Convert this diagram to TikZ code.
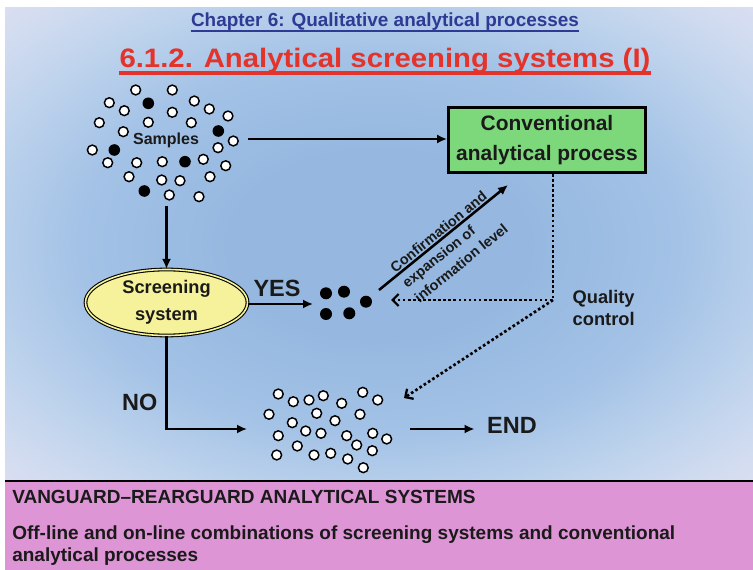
\documentclass[tikz,border=0pt]{standalone}
\usepackage{fontspec}
\setmainfont{Liberation Sans}
\newfontfamily\widesans[FakeStretch=1.1]{Liberation Sans}
\usetikzlibrary{arrows.meta,calc,positioning,shapes.geometric}

\definecolor{chapblue}{HTML}{2E3A93}
\definecolor{titlered}{HTML}{E4332A}
\definecolor{boxgreen}{HTML}{7DD87B}
\definecolor{ellyellow}{HTML}{F6F19B}
\definecolor{bandpink}{HTML}{DD95D5}
\definecolor{inkgray}{HTML}{1A1A1A}
\definecolor{bgA}{HTML}{96B8E0}
\definecolor{bgB}{HTML}{A3C2E6}
\definecolor{bgC}{HTML}{BCD2EC}
\definecolor{bgD}{HTML}{D2DCF0}
\definecolor{bgE}{HTML}{E9E1F3}
\definecolor{bgF}{HTML}{F7E5F6}

\pgfdeclareradialshading{slidebg}{\pgfpoint{0bp}{0bp}}{%
  color(0bp)=(bgA); color(10bp)=(bgA); color(20bp)=(bgB); color(27bp)=(bgC);
  color(33bp)=(bgD); color(40bp)=(bgE); color(46bp)=(bgF); color(50bp)=(bgF)}

\tikzset{
  every node/.style={font=\bfseries, text=inkgray},
  procbox/.style={draw=black, line width=1.9pt, fill=boxgreen, minimum width=148pt,
    minimum height=49pt, align=center, inner sep=0pt,
    font=\bfseries\fontsize{15.7}{22.5}\selectfont},
  screenbox/.style={ellipse, draw=black, line width=0.8pt, double=ellyellow,
    double distance=1.2pt, fill=ellyellow, minimum width=121.5pt, minimum height=49.5pt,
    inner sep=0pt, align=center, font=\bfseries\fontsize{13.7}{20}\selectfont},
  answer/.style={font=\bfseries\fontsize{17.6}{20}\selectfont},
  flow/.style={line width=1.9pt, -{Latex[length=7.5pt,width=6.8pt]}},
  qcflow/.style={line width=2pt, dash pattern=on 2pt off 1.8pt,
    -{Straight Barb[length=4.5pt,width=9pt,line width=1.7pt]}},
  whitedot/.style={draw=black, line width=1.1pt, fill=white},
  blackdot/.style={fill=black},
  bandtext/.style={anchor=base west, inner sep=0pt, align=left,
    font=\bfseries\fontsize{14.25}{16.5}\selectfont},
}

\begin{document}
\begin{tikzpicture}[x=0.75pt, y=-0.75pt]
  \useasboundingbox (0,0) rectangle (753,570);
  \fill[white] (0,0) rectangle (753,570);
  % slide background
  \shade[shading=slidebg] (5,8) rectangle (753,481);
  \fill[bandpink] (5,481) rectangle (753,570);
  \draw[black, line width=1.9pt] (5,481) -- (753,481);

  % headings
  \node[inner sep=0pt, anchor=base, text=chapblue, font=\bfseries\fontsize{14.2}{16}\selectfont]
    (chap) at (385,26.5) {Chapter 6: Qualitative analytical processes};
  \draw[chapblue, line width=1.6pt] ([yshift=-3.6pt]chap.base west) -- ([yshift=-3.6pt]chap.base east);
  \node[inner sep=0pt, anchor=base, text=titlered, font=\widesans\bfseries\fontsize{20}{24}\selectfont]
    (title) at (385,67.3) {6.1.2. Analytical screening systems (I)};
  \draw[titlered, line width=2.5pt] ([yshift=-4.3pt]title.base west) -- ([yshift=-4.3pt]title.base east);

  % samples
  \foreach \x/\y in {135.7/90, 172.3/90, 109.3/102.7, 124.3/110.7, 194.3/101, 209.3/109,
      228/116, 172.3/112.3, 99.3/122.7, 148.3/122.3, 191.3/122.7, 123.3/131.7, 233.3/141,
      218/147.7, 92.3/150, 107.7/162.7, 136.7/162.7, 162.3/161.7, 203.3/159.3, 225.7/165.7,
      129/176.7, 161.7/180, 180/180.7, 210/176.7, 169.3/195, 199/196.7}
    \draw[whitedot] (\x,\y) circle [radius=4.9];
  \foreach \x/\y in {148.3/103.3, 218.3/131, 114.3/150, 185/161.7, 144.3/191}
    \fill[blackdot] (\x,\y) circle [radius=5.8];
  \node[font=\bfseries\fontsize{12}{14}\selectfont] (smp) at (166,140) {Samples};
  \coordinate (smpE) at (248,139);
  \coordinate (smpS) at (166.5,206);

  % boxes
  \node[procbox] (conv) at (547,140) {Conventional\\analytical process};
  \node[screenbox] (scr) at (166.5,302.5) {Screening\\system};

  % positives
  \foreach \x/\y in {326/293.3, 344/291.7, 366/301.7, 326/314, 349.3/313.3}
    \fill[blackdot] (\x,\y) circle [radius=6];
  \coordinate (hitW) at (313,304);
  \coordinate (hitNE) at (379,290);
  \coordinate (hitE) at (391,300);
  \coordinate (confEnd) at (508,185);

  % negatives
  \foreach \x/\y in {278.3/394, 293.3/401.7, 309/400, 323.3/395.7, 341.7/403.3, 362.7/392.3,
      377.7/400, 269/414.3, 316.7/413.3, 335/420.7, 360/414.3, 292.3/422.7, 305.7/431,
      321/433.3, 346.7/435.7, 356.7/445, 372.7/433.3, 386.7/439, 278.3/435.7, 297.3/446,
      314/455, 330.7/453.3, 347.7/459, 372.3/450.7, 276.7/455, 363.3/467.7}
    \draw[whitedot] (\x,\y) circle [radius=4.9];
  \coordinate (restW) at (247,429);
  \coordinate (restNE) at (404,398);
  \coordinate (restE) at (410,429);
  \coordinate (qc) at (553,300);

  % labels
  \node[answer] (yes) at (277,288) {YES};
  \node[answer] (no) at (139.7,402) {NO};
  \node[answer] (end) at (512,425) {END};
  \node[anchor=west, align=left, font=\bfseries\fontsize{13.7}{17.2}\selectfont]
    (qlabel) at (568,308) {Quality\\control};
  \node[anchor=west, align=left, rotate=39, inner sep=0pt,
    font=\bfseries\fontsize{10.8}{14.4}\selectfont]
    (conf) at (404,284.5) {Confirmation and\\expansion of\\information level};

  % connectors
  \draw[flow] (smpE) -- (conv.west |- smpE);
  \draw[flow] (smpS) -- (scr.north);
  \draw[flow] (scr.east |- hitW) -- (hitW);
  \draw[flow] (hitNE) -- (confEnd);
  \draw[flow] (scr.south) -- (scr.south |- restW) -- (restW);
  \draw[flow] (restE) -- ([xshift=-6pt]end.west |- restE);
  \draw[qcflow] (conv.south -| qc) -- (qc) -- (hitE);
  \draw[qcflow] (qc) -- (restNE);

  % footer
  \node[bandtext] (band1) at (12,503.5) {VANGUARD--REARGUARD ANALYTICAL SYSTEMS};
  \node[bandtext] (band2) at (12,561) {Off-line and on-line combinations of screening systems and conventional\\analytical processes};
\end{tikzpicture}
\end{document}
